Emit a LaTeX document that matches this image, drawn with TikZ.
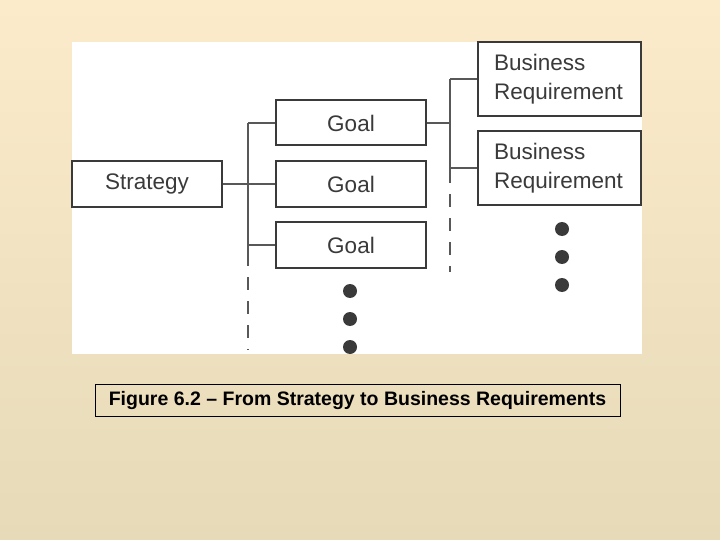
\documentclass[tikz,border=0pt]{standalone}
\usepackage{fontspec}
\setmainfont{Liberation Sans}
\definecolor{bgtop}{HTML}{FCEBCB}
\definecolor{bgbot}{HTML}{E6DAB8}
\definecolor{ink}{HTML}{3A3A3A}
\begin{document}
\begin{tikzpicture}[x=1pt,y=-1pt,
  box/.style={draw=ink,line width=2pt,fill=white,inner sep=0pt,font=\fontsize{22.5}{29}\selectfont,text=ink,align=left},
  ln/.style={draw=ink!85,line width=1.5pt},
  dl/.style={ln,dash pattern=on 13pt off 11pt},
  dot/.style={circle,fill=ink,inner sep=0pt,minimum size=14pt}]
\useasboundingbox (0,0) rectangle (720,540);
\shade[top color=bgtop,bottom color=bgbot] (0,0) rectangle (720,540);
\fill[white] (72,42) rectangle (642,354);
\node[box,minimum width=150pt,minimum height=46pt] (s) at (147,184) {Strategy};
\node[box,minimum width=150pt,minimum height=45pt] (g1) at (351,123) {Goal};
\node[box,minimum width=150pt,minimum height=46pt] (g2) at (351,184) {Goal};
\node[box,minimum width=150pt,minimum height=46pt] (g3) at (351,245) {Goal};
\node[box,minimum width=163pt,minimum height=74pt,text width=131pt] (b1) at (559.5,79) {Business\\Requirement};
\node[box,minimum width=163pt,minimum height=74pt,text width=131pt] (b2) at (559.5,168) {Business\\Requirement};
\coordinate (t1) at (248,123); \coordinate (t1e) at (248,253); \coordinate (t1d) at (248,350);
\coordinate (t2) at (450,79); \coordinate (t2e) at (450,170); \coordinate (t2d) at (450,272);
\draw[ln] (t1) -- (t1e);
\draw[dl] (t1e) -- (t1d);
\draw[ln] (s.east) -- (g2.west);
\draw[ln] (t1) -- (g1.west);
\draw[ln] (t1|-g3) -- (g3.west);
\draw[ln] (t2) -- (t2e);
\draw[dl] (t2e) -- (t2d);
\draw[ln] (g1.east) -- (t2|-g1);
\draw[ln] (t2) -- (b1.west);
\draw[ln] (t2|-b2) -- (b2.west);
\foreach \y/\n in {291/a,319/b,347/c} \node[dot] (d\n) at (350,\y) {};
\foreach \y/\n in {229/a,257/b,285/c} \node[dot] (e\n) at (562,\y) {};
\node[draw=black,line width=1pt,minimum width=525pt,minimum height=32pt,inner sep=0pt,font=\fontsize{19.5}{21}\selectfont\bfseries] (cap) at (357.5,400) {Figure 6.2 – From Strategy to Business Requirements};
\end{tikzpicture}
\end{document}
